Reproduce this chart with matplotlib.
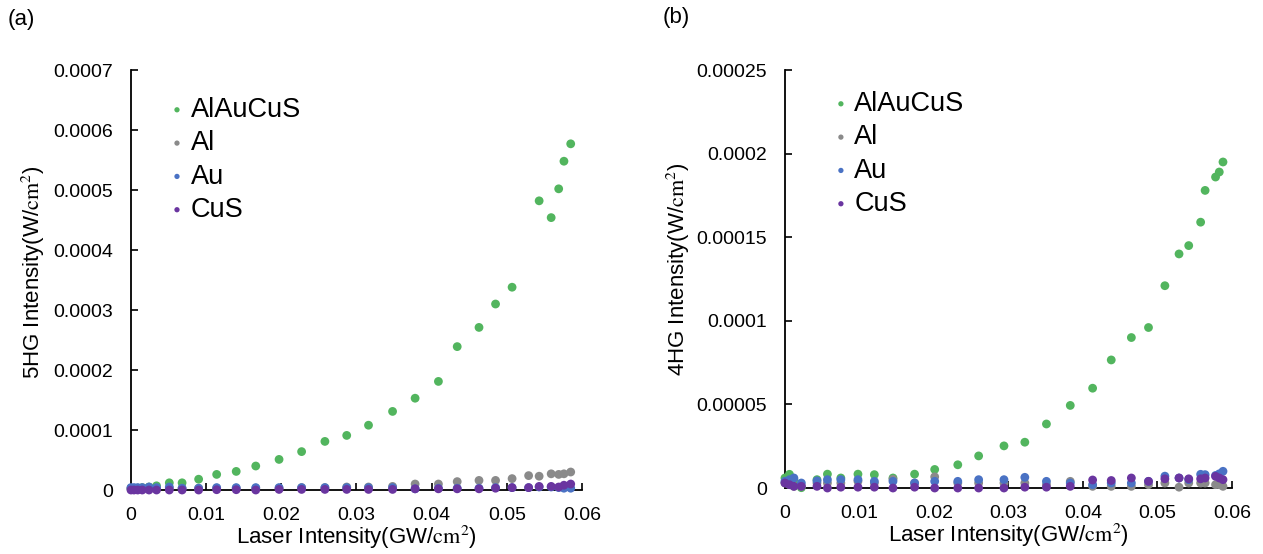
import matplotlib
matplotlib.use('Agg')
import matplotlib.pyplot as plt
import numpy as np

plt.rcParams['font.family'] = ['Liberation Sans', 'DejaVu Sans']
plt.rcParams['mathtext.fontset'] = 'stix'

nan = np.nan

# panel (a) data, 5HG
xa = [0.0, 0.0004, 0.0009, 0.0015, 0.0024, 0.0034, 0.0051, 0.0068, 0.0090, 0.0114,
      0.0140, 0.0166, 0.0197, 0.0227, 0.0258, 0.0287, 0.0316, 0.0348, 0.0378, 0.0409,
      0.0434, 0.0463, 0.0485, 0.0507, 0.0529, 0.0543, 0.0559, 0.0569, 0.0576, 0.0585]
a_alaucus = [0.000002, 0.000002, 0.000003, 0.000004, 0.000005, 0.000007, 0.000012, 0.000012,
             0.000018, 0.000026, 0.000031, 0.000040, 0.000051, 0.000064, 0.000081, 0.000091,
             0.000108, 0.000131, 0.000153, 0.000181, 0.000239, 0.000271, 0.000310, 0.000338,
             nan, 0.000482, 0.000454, 0.000502, 0.000548, 0.000577]
a_al = [0.000003, 0.000003, 0.000003, 0.000003, 0.000003, 0.000003, 0.000003, 0.000003,
        0.000003, 0.000003, 0.000003, 0.000003, 0.000003, 0.000004, 0.000004, 0.000005,
        0.000005, 0.000006, 0.000010, 0.000010, 0.000014, 0.000016, 0.000016, 0.000019,
        0.000024, 0.000023, 0.000027, 0.000026, 0.000027, 0.000030]
a_au = [0.000004, 0.000004, 0.000004, 0.000004, 0.000005, 0.000004, 0.000005, 0.000003,
        0.000003, 0.000004, 0.000004, 0.000004, 0.000004, 0.000004, 0.000004, 0.000004,
        0.000004, 0.000004, 0.000002, 0.000003, 0.000003, 0.000003, 0.000004, 0.000004,
        0.000004, 0.000005, 0.000005, 0.000004, 0.000003, 0.000003]
a_cus = [0.0, 0.0, 0.0, 0.0, 0.0, 0.0, 0.0, 0.0, 0.0, 0.0000005,
         0.0000005, 0.0, 0.000001, 0.000001, 0.000001, 0.000001, 0.000001, 0.000001, 0.000002, 0.000002,
         0.000002, 0.000002, 0.000003, 0.000004, 0.000004, 0.000006, 0.000006, 0.000005, 0.000008, 0.000010]

# panel (b) data, 4HG
xb = [0.0, 0.0006, 0.0012, 0.0022, 0.0043, 0.0057, 0.0075, 0.0098, 0.0120, 0.0145,
      0.0174, 0.0201, 0.0232, 0.0260, 0.0294, 0.0322, 0.0351, 0.0383, 0.0413, 0.0438,
      0.0465, 0.0488, 0.0510, 0.0529, 0.0542, 0.0558, 0.0564, 0.0578, 0.0583, 0.0588]
b_alaucus = [0.0000060, 0.0000082, 0.0000050, 0.0000002, 0.0000050, 0.0000083, 0.0000060, 0.0000083,
             0.0000080, 0.0000060, 0.0000083, 0.0000111, 0.0000139, 0.0000192, 0.0000252, 0.0000274,
             0.0000383, 0.0000494, 0.0000597, 0.0000766, 0.0000900, 0.0000960, 0.0001210, 0.0001400,
             0.0001450, 0.0001590, 0.0001780, 0.0001860, 0.0001890, 0.0001950]
b_al = [0.0000030, 0.0000020, 0.0000010, 0.0000010, 0.0000030, 0.0000030, 0.0000030, 0.0000040,
        0.0000030, 0.0000052, 0.0000030, 0.0000067, 0.0000030, 0.0000030, 0.0000030, 0.0000030,
        0.0000020, 0.0000040, 0.0000010, 0.0000010, 0.0000010, 0.0000020, 0.0000030, 0.0000005,
        0.0000030, 0.0000030, 0.0000030, 0.0000020, 0.0000020, 0.0000010]
b_au = [0.0000040, 0.0000050, 0.0000060, 0.0000030, 0.0000043, 0.0000050, 0.0000050, 0.0000050,
        0.0000040, 0.0000040, 0.0000030, 0.0000040, 0.0000040, 0.0000050, 0.0000050, 0.0000064,
        0.0000040, 0.0000030, 0.0000020, 0.0000030, 0.0000030, 0.0000040, 0.0000071, 0.0000060,
        0.0000050, 0.0000082, 0.0000080, 0.0000075, 0.0000085, 0.0000100]
b_cus = [0.0000030, 0.0000020, 0.0000010, 0.0000010, 0.0000010, 0.0, 0.0000005, 0.0000005,
         0.0000005, 0.0, 0.0000005, 0.0, 0.0, 0.0, 0.0, 0.0000005,
         0.0000005, 0.0000010, 0.0000048, 0.0000045, 0.0000060, 0.0000040, 0.0000055, 0.0000060,
         0.0000055, 0.0000055, 0.0000060, 0.0000070, 0.0000060, 0.0000050]

labels = ['AlAuCuS', 'Al', 'Au', 'CuS']
colors = ['#52b55e', '#8a8a8a', '#4a72c4', '#6a35a0']

ya_ticks = ['0', '0.0001', '0.0002', '0.0003', '0.0004', '0.0005', '0.0006', '0.0007']
yb_ticks = ['0', '0.00005', '0.0001', '0.00015', '0.0002', '0.00025']

fig = plt.figure(figsize=(12.63, 5.54), dpi=100)
ax1 = fig.add_axes([0.1037, 0.1155, 0.3571, 0.7581])
ax2 = fig.add_axes([0.6215, 0.1191, 0.3539, 0.7545])

panels = [
    (ax1, xa, [a_alaucus, a_al, a_au, a_cus], 0.0007, ya_ticks, '5HG', -0.186, 0.519, 0.084, 0.936),
    (ax2, xb, [b_alaucus, b_al, b_au, b_cus], 0.00025, yb_ticks, '4HG', -0.208, 0.524, 0.107, 0.95),
]

for ax, x, series, ymax, yticks, name, ylx, yly, legx, legy in panels:
    for ys, lab, c in zip(series, labels, colors):
        ax.scatter(x, ys, s=40, color=c, label=lab, edgecolors='none', clip_on=False, zorder=3)
    ax.set_xlim(0, 0.06)
    ax.set_ylim(0, ymax)
    ax.set_xticks(np.arange(0, 0.0601, 0.01))
    ax.set_xticklabels(['0', '0.01', '0.02', '0.03', '0.04', '0.05', '0.06'])
    ax.set_yticks(np.linspace(0, ymax, len(yticks)))
    ax.set_yticklabels(yticks)
    ax.spines['top'].set_visible(False)
    ax.spines['right'].set_visible(False)
    ax.spines['left'].set_linewidth(1.3)
    ax.spines['bottom'].set_linewidth(1.3)
    ax.tick_params(direction='in', length=5, width=1.2, labelsize=14)
    ax.tick_params(axis='y', pad=13)
    ax.tick_params(axis='x', pad=12)
    ax.set_xlabel(r'Laser Intensity(GW/$\mathrm{cm}^2$)', fontsize=16, labelpad=0)
    ax.set_ylabel(name + r' Intensity(W/$\mathrm{cm}^2$)', fontsize=16)
    ax.yaxis.set_label_coords(ylx, yly)
    ax.legend(loc='upper left', bbox_to_anchor=(legx, legy), frameon=False, fontsize=19.5,
              markerscale=0.6, handlelength=0.6, handletextpad=0.2, labelspacing=0.27,
              borderaxespad=0, borderpad=0)

fig.text(0.006, 1 - 20 / 554, '(a)', fontsize=16, va='center')
fig.text(0.525, 1 - 18 / 554, '(b)', fontsize=16, va='center')

fig.savefig('out.png', dpi=100)
